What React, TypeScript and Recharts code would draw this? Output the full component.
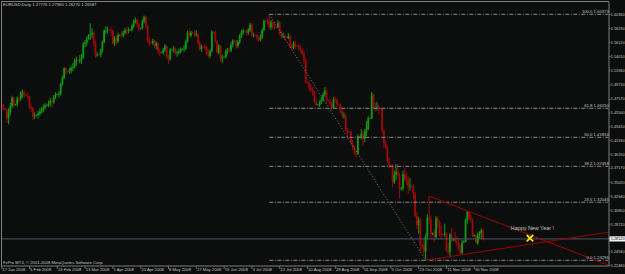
import React from 'react';
import { ComposedChart, Bar, XAxis, YAxis, ReferenceLine, ReferenceDot } from 'recharts';

// EURUSD daily bars, 17 Jan 2008 .. 5 Dec 2008 (broker includes short Sunday bars)
const opens = [
  1.4660,1.4630,1.4625,1.4600,1.4470,1.4560,1.4650,1.4780,1.4670,1.4680,
  1.4770,1.4760,1.4860,1.4860,1.4820,1.4810,1.4800,1.4640,1.4620,1.4500,
  1.4510,1.4520,1.4540,1.4570,1.4600,1.4630,1.4660,1.4670,1.4700,1.4730,
  1.4710,1.4790,1.4830,1.4835,1.4840,1.4990,1.5080,1.5220,1.5180,1.5175,
  1.5190,1.5230,1.5240,1.5330,1.5350,1.5345,1.5350,1.5380,1.5590,1.5610,
  1.5660,1.5720,1.5730,1.5760,1.5600,1.5420,1.5430,1.5425,1.5480,1.5620,
  1.5790,1.5790,1.5800,1.5795,1.5790,1.5600,1.5680,1.5630,1.5720,1.5725,
  1.5720,1.5760,1.5800,1.5790,1.5800,1.5805,1.5860,1.5930,1.5950,1.5880,
  1.5820,1.5830,1.5930,1.6000,1.5860,1.5650,1.5610,1.5605,1.5640,1.5560,
  1.5600,1.5480,1.5460,1.5465,1.5500,1.5560,1.5390,1.5360,1.5500,1.5505,
  1.5520,1.5450,1.5460,1.5470,1.5510,1.5515,1.5520,1.5630,1.5760,1.5720,
  1.5760,1.5755,1.5740,1.5740,1.5610,1.5510,1.5550,1.5545,1.5540,1.5440,
  1.5410,1.5480,1.5770,1.5765,1.5630,1.5460,1.5560,1.5370,1.5390,1.5395,
  1.5480,1.5500,1.5490,1.5580,1.5640,1.5635,1.5560,1.5620,1.5710,1.5760,
  1.5790,1.5785,1.5760,1.5800,1.5880,1.5720,1.5720,1.5715,1.5680,1.5650,
  1.5700,1.5800,1.5940,1.5935,1.5920,1.5840,1.5920,1.5860,1.5850,1.5845,
  1.5910,1.5750,1.5710,1.5710,1.5690,1.5685,1.5710,1.5550,1.5530,1.5600,
  1.5560,1.5555,1.5530,1.5490,1.5440,1.5350,1.5010,1.5005,1.4930,1.4900,
  1.4860,1.4720,1.4670,1.4675,1.4710,1.4750,1.4830,1.4890,1.4740,1.4735,
  1.4690,1.4630,1.4760,1.4750,1.4680,1.4675,1.4580,1.4510,1.4510,1.4300,
  1.4270,1.4265,1.4100,1.4030,1.3950,1.3940,1.4200,1.4195,1.4240,1.4160,
  1.4270,1.4310,1.4470,1.4475,1.4830,1.4650,1.4620,1.4630,1.4620,1.4615,
  1.4280,1.4090,1.4030,1.3820,1.3770,1.3765,1.3510,1.3620,1.3660,1.3620,
  1.3410,1.3415,1.3630,1.3560,1.3540,1.3450,1.3450,1.3445,1.3330,1.3000,
  1.2860,1.2940,1.2560,1.2555,1.2460,1.2690,1.2970,1.2960,1.2730,1.2735,
  1.2680,1.2960,1.2910,1.2730,1.2720,1.2715,1.2730,1.2480,1.2460,1.2720,
  1.2640,1.2645,1.2620,1.2600,1.2490,1.2440,1.2600,1.2610,1.2940,1.3060,
  1.2980,1.2950,1.2700,1.2705,1.2590,1.2720,1.2740,1.2778,
];
const highs = [
  1.4700,1.4690,1.4630,1.4610,1.4620,1.4700,1.4810,1.4790,1.4690,1.4800,
  1.4790,1.4880,1.4900,1.4890,1.4830,1.4860,1.4810,1.4680,1.4640,1.4560,
  1.4530,1.4580,1.4620,1.4640,1.4680,1.4700,1.4680,1.4740,1.4780,1.4770,
  1.4820,1.4860,1.4845,1.4880,1.5010,1.5110,1.5240,1.5240,1.5190,1.5230,
  1.5260,1.5300,1.5370,1.5400,1.5360,1.5420,1.5440,1.5620,1.5650,1.5700,
  1.5740,1.5903,1.5830,1.5780,1.5640,1.5470,1.5440,1.5520,1.5640,1.5810,
  1.5860,1.5850,1.5810,1.5840,1.5810,1.5710,1.5720,1.5760,1.5735,1.5780,
  1.5790,1.5830,1.5850,1.5840,1.5815,1.5890,1.5960,1.5990,1.5970,1.5910,
  1.5835,1.5960,1.6019,1.6010,1.5880,1.5700,1.5620,1.5670,1.5660,1.5630,
  1.5610,1.5520,1.5475,1.5530,1.5590,1.5570,1.5420,1.5530,1.5510,1.5560,
  1.5540,1.5490,1.5520,1.5540,1.5525,1.5570,1.5660,1.5790,1.5810,1.5790,
  1.5770,1.5790,1.5800,1.5750,1.5640,1.5580,1.5560,1.5590,1.5560,1.5500,
  1.5510,1.5800,1.5780,1.5790,1.5650,1.5590,1.5570,1.5430,1.5405,1.5510,
  1.5530,1.5540,1.5620,1.5660,1.5650,1.5650,1.5650,1.5740,1.5800,1.5820,
  1.5800,1.5810,1.5830,1.5910,1.5900,1.5760,1.5730,1.5740,1.5720,1.5740,
  1.5830,1.5960,1.5950,1.5970,1.6037,1.5950,1.5940,1.5900,1.5860,1.5950,
  1.5930,1.5790,1.5760,1.5730,1.5700,1.5750,1.5730,1.5590,1.5630,1.5640,
  1.5570,1.5590,1.5560,1.5520,1.5480,1.5380,1.5020,1.5040,1.4990,1.4950,
  1.4890,1.4760,1.4685,1.4740,1.4790,1.4860,1.4940,1.4900,1.4750,1.4760,
  1.4720,1.4790,1.4800,1.4770,1.4690,1.4690,1.4610,1.4560,1.4530,1.4330,
  1.4280,1.4290,1.4140,1.4060,1.3990,1.4230,1.4210,1.4310,1.4280,1.4310,
  1.4430,1.4500,1.4480,1.4867,1.4840,1.4700,1.4720,1.4680,1.4630,1.4620,
  1.4310,1.4140,1.4060,1.3880,1.3780,1.3780,1.3680,1.3780,1.3780,1.3640,
  1.3440,1.3680,1.3720,1.3660,1.3600,1.3570,1.3460,1.3480,1.3360,1.3060,
  1.2980,1.2960,1.2580,1.2640,1.2720,1.3020,1.3297,1.3000,1.2750,1.2800,
  1.3000,1.2990,1.2930,1.2860,1.2740,1.2880,1.2750,1.2590,1.2740,1.2820,
  1.2660,1.2760,1.2690,1.2670,1.2560,1.2640,1.2630,1.2960,1.3070,1.3070,
  1.3030,1.2960,1.2720,1.2720,1.2750,1.2770,1.2810,1.2798,
];
const lows = [
  1.4585,1.4590,1.4595,1.4400,1.4380,1.4510,1.4620,1.4630,1.4660,1.4650,
  1.4710,1.4730,1.4780,1.4780,1.4800,1.4770,1.4610,1.4560,1.4440,1.4460,
  1.4500,1.4470,1.4510,1.4540,1.4560,1.4600,1.4650,1.4640,1.4650,1.4630,
  1.4690,1.4760,1.4820,1.4780,1.4810,1.4960,1.5060,1.5130,1.5165,1.5140,
  1.5150,1.5180,1.5220,1.5260,1.5335,1.5300,1.5290,1.5370,1.5540,1.5560,
  1.5655,1.5650,1.5680,1.5560,1.5380,1.5400,1.5415,1.5390,1.5460,1.5600,
  1.5740,1.5750,1.5785,1.5710,1.5580,1.5560,1.5580,1.5600,1.5710,1.5680,
  1.5690,1.5730,1.5740,1.5750,1.5790,1.5780,1.5830,1.5900,1.5840,1.5780,
  1.5810,1.5810,1.5900,1.5820,1.5620,1.5560,1.5595,1.5570,1.5530,1.5510,
  1.5440,1.5410,1.5450,1.5430,1.5470,1.5370,1.5285,1.5340,1.5490,1.5460,
  1.5430,1.5400,1.5430,1.5450,1.5500,1.5470,1.5500,1.5610,1.5700,1.5690,
  1.5745,1.5700,1.5700,1.5580,1.5490,1.5470,1.5535,1.5500,1.5420,1.5390,
  1.5370,1.5460,1.5755,1.5610,1.5440,1.5430,1.5320,1.5300,1.5385,1.5370,
  1.5440,1.5460,1.5470,1.5540,1.5625,1.5520,1.5530,1.5590,1.5680,1.5730,
  1.5775,1.5720,1.5730,1.5770,1.5690,1.5690,1.5705,1.5640,1.5620,1.5630,
  1.5670,1.5780,1.5925,1.5880,1.5820,1.5800,1.5820,1.5800,1.5835,1.5830,
  1.5720,1.5680,1.5680,1.5650,1.5675,1.5660,1.5530,1.5500,1.5510,1.5520,
  1.5545,1.5490,1.5450,1.5420,1.5290,1.4990,1.4995,1.4880,1.4860,1.4810,
  1.4700,1.4660,1.4660,1.4640,1.4680,1.4720,1.4800,1.4700,1.4725,1.4650,
  1.4600,1.4610,1.4710,1.4640,1.4665,1.4550,1.4480,1.4460,1.4280,1.4180,
  1.4255,1.4070,1.4000,1.3920,1.3880,1.3920,1.4185,1.4150,1.4060,1.4110,
  1.4200,1.4290,1.4460,1.4460,1.4620,1.4570,1.4590,1.4530,1.4605,1.4240,
  1.4020,1.4000,1.3800,1.3720,1.3740,1.3430,1.3480,1.3540,1.3580,1.3260,
  1.3380,1.3380,1.3520,1.3460,1.3330,1.3380,1.3420,1.3250,1.2970,1.2800,
  1.2730,1.2470,1.2500,1.2400,1.2330,1.2640,1.2870,1.2670,1.2710,1.2600,
  1.2650,1.2810,1.2690,1.2650,1.2700,1.2680,1.2460,1.2410,1.2370,1.2600,
  1.2620,1.2590,1.2540,1.2470,1.2420,1.2420,1.2590,1.2600,1.2880,1.2930,
  1.2900,1.2680,1.2680,1.2580,1.2560,1.2650,1.2650,1.2627,
];
const closes = [
  1.4630,1.4625,1.4600,1.4470,1.4560,1.4650,1.4780,1.4670,1.4680,1.4770,
  1.4760,1.4860,1.4860,1.4820,1.4810,1.4800,1.4640,1.4620,1.4500,1.4510,
  1.4520,1.4540,1.4570,1.4600,1.4630,1.4660,1.4670,1.4700,1.4730,1.4710,
  1.4790,1.4830,1.4835,1.4840,1.4990,1.5080,1.5220,1.5180,1.5175,1.5190,
  1.5230,1.5240,1.5330,1.5350,1.5345,1.5350,1.5380,1.5590,1.5610,1.5660,
  1.5720,1.5730,1.5760,1.5600,1.5420,1.5430,1.5425,1.5480,1.5620,1.5790,
  1.5790,1.5800,1.5795,1.5790,1.5600,1.5680,1.5630,1.5720,1.5725,1.5720,
  1.5760,1.5800,1.5790,1.5800,1.5805,1.5860,1.5930,1.5950,1.5880,1.5820,
  1.5830,1.5930,1.6000,1.5860,1.5650,1.5610,1.5605,1.5640,1.5560,1.5600,
  1.5480,1.5460,1.5465,1.5500,1.5560,1.5390,1.5360,1.5500,1.5505,1.5520,
  1.5450,1.5460,1.5470,1.5510,1.5515,1.5520,1.5630,1.5760,1.5720,1.5760,
  1.5755,1.5740,1.5740,1.5610,1.5510,1.5550,1.5545,1.5540,1.5440,1.5410,
  1.5480,1.5770,1.5765,1.5630,1.5460,1.5560,1.5370,1.5390,1.5395,1.5480,
  1.5500,1.5490,1.5580,1.5640,1.5635,1.5560,1.5620,1.5710,1.5760,1.5790,
  1.5785,1.5760,1.5800,1.5880,1.5720,1.5720,1.5715,1.5680,1.5650,1.5700,
  1.5800,1.5940,1.5935,1.5920,1.5840,1.5920,1.5860,1.5850,1.5845,1.5910,
  1.5750,1.5710,1.5710,1.5690,1.5685,1.5710,1.5550,1.5530,1.5600,1.5560,
  1.5555,1.5530,1.5490,1.5440,1.5350,1.5010,1.5005,1.4930,1.4900,1.4860,
  1.4720,1.4670,1.4675,1.4710,1.4750,1.4830,1.4890,1.4740,1.4735,1.4690,
  1.4630,1.4760,1.4750,1.4680,1.4675,1.4580,1.4510,1.4510,1.4300,1.4270,
  1.4265,1.4100,1.4030,1.3950,1.3940,1.4200,1.4195,1.4240,1.4160,1.4270,
  1.4310,1.4470,1.4475,1.4830,1.4650,1.4620,1.4630,1.4620,1.4615,1.4280,
  1.4090,1.4030,1.3820,1.3770,1.3765,1.3510,1.3620,1.3660,1.3620,1.3410,
  1.3415,1.3630,1.3560,1.3540,1.3450,1.3450,1.3445,1.3330,1.3000,1.2860,
  1.2940,1.2560,1.2555,1.2460,1.2690,1.2970,1.2960,1.2730,1.2735,1.2680,
  1.2960,1.2910,1.2730,1.2720,1.2715,1.2730,1.2480,1.2460,1.2720,1.2640,
  1.2645,1.2620,1.2600,1.2490,1.2440,1.2600,1.2610,1.2940,1.3060,1.2980,
  1.2950,1.2700,1.2705,1.2590,1.2720,1.2740,1.2778,1.2659,
];

// time axis
const dateTickBars = [0, 16, 32, 48, 64, 80, 96, 112, 128, 144, 160, 176, 192, 208, 224, 240, 256, 272];
const dateTickLabels = [
  '17 Jan 2008', '5 Feb 2008', '24 Feb 2008', '13 Mar 2008', '1 Apr 2008', '20 Apr 2008',
  '8 May 2008', '27 May 2008', '15 Jun 2008', '3 Jul 2008', '22 Jul 2008', '10 Aug 2008',
  '28 Aug 2008', '16 Sep 2008', '5 Oct 2008', '23 Oct 2008', '11 Nov 2008', '30 Nov 2008',
];
const totalSlots = 350; // bars plus empty space to the right (chart shift)

// price axis
const priceTicks = [
  1.6034, 1.5823, 1.5612, 1.5401, 1.5186, 1.4971, 1.4757, 1.4550, 1.4341, 1.4133,
  1.3925, 1.3717, 1.3502, 1.3294, 1.3080, 1.2872, 1.2652, 1.2456, 1.2248,
];
const priceTickLabels = [
  '1.60340', '1.58230', '1.56120', '1.54010', '1.51860', '1.49710', '1.47570', '1.45500', '1.43410', '1.41330',
  '1.39250', '1.37170', '1.35020', '1.32940', '1.30800', '1.28720', '1.26520', '1.24560', '1.22480',
];
const priceMin = 1.22437;
const priceMax = 1.62227;
const bidPrice = 1.2652;

// Fibonacci retracement (from 15 Jul high to 28 Oct low)
const fiboStartBar = 154;
const fiboEndBar = 244;
const fiboRatios = ['100.0', '61.8', '50.0', '38.2', '23.6', '0.0'];
const fiboPrices = [1.60373, 1.46210, 1.41834, 1.37459, 1.32046, 1.23296];
const fiboLabels = ['1.60373', '1.46210', '1.41834', '1.37459', '1.32046', '1.23296'];

// triangle trend lines
const upperLine = [{ x: 246, y: 1.3297 }, { x: 349, y: 1.2257 }];
const lowerLine = [{ x: 244, y: 1.2330 }, { x: 349, y: 1.2753 }];

const markBar = 304;
const markPrice = 1.2662;
const noteBar = 293;
const notePrice = 1.2809;
const noteText = 'Happy New Year !';
const headerText = 'EURUSD,Daily  1.27776 1.27980 1.26270 1.26587';
const footerText = 'FxPro MT4, \u00A9 2001-2008 MetaQuotes Software Corp.';

const rows = Array.from({ length: totalSlots }, (_, i) =>
  i < closes.length
    ? { i, range: [lows[i], highs[i]], o: opens[i], h: highs[i], l: lows[i], c: closes[i] }
    : { i, range: null }
);

const BG = '#0c0e0e';
const UP = '#109a10';
const DOWN = '#9c0a0a';
const GRID = '#7c7c7c';
const TXT = '#c4c4c4';
const FONT = 'Liberation Sans, Arial, sans-serif';

const Candle = (props: any) => {
  const { x, y, width, height, payload } = props;
  if (!payload || payload.range == null || x == null) return null;
  const top = Math.min(y, y + height);
  const h = Math.abs(height);
  const span = payload.h - payload.l || 1;
  const py = (v: number) => top + ((payload.h - v) / span) * h;
  const cx = x + width / 2;
  const up = payload.c >= payload.o;
  const color = up ? UP : DOWN;
  const yo = py(payload.o);
  const yc = py(payload.c);
  const bTop = Math.min(yo, yc);
  const bH = Math.max(0.7, Math.abs(yo - yc));
  return (
    <g>
      <rect x={cx - 0.5} y={top} width={1} height={Math.max(h, 0.7)} fill={color} />
      <rect x={cx - 0.9} y={bTop} width={1.8} height={bH} fill={color} />
    </g>
  );
};

const DateTick = (props: any) => {
  const { x, y, payload } = props;
  const idx = dateTickBars.indexOf(payload.value);
  if (idx < 0) return null;
  return (
    <g>
      <line x1={x} x2={x} y1={y} y2={y + 3} stroke={GRID} strokeWidth={0.8} />
      <text x={x + 0.6} y={y + 4.3} fontSize={4.2} fontFamily={FONT} fill={TXT} dominantBaseline="middle">
        {dateTickLabels[idx]}
      </text>
    </g>
  );
};

const PriceTick = (props: any) => {
  const { x, y, payload } = props;
  const idx = priceTicks.indexOf(payload.value);
  if (idx < 0) return null;
  const isBid = payload.value === bidPrice;
  return (
    <g>
      <line x1={x} x2={x + 1.6} y1={y} y2={y} stroke={GRID} strokeWidth={0.8} />
      {isBid && <rect x={x + 0.5} y={y - 2.6} width={16} height={5.2} fill="#f2f2f2" />}
      <text x={x + 1.7} y={y + 0.2} fontSize={3.85} fontFamily={FONT} fill={isBid ? '#000' : TXT} dominantBaseline="middle">
        {priceTickLabels[idx]}
      </text>
    </g>
  );
};

const fiboLabelShape = (k: number) => (p: any) => (
  <text x={p.cx + 0.6} y={p.cy - 2.7} fontSize={4.2} fontFamily={FONT} fill={TXT} textAnchor="end" dominantBaseline="middle">
    {fiboRatios[k] + '  ' + fiboLabels[k]}
  </text>
);

const XMark = (p: any) => (
  <g stroke="#f2e200" strokeWidth={1.8} strokeLinecap="square">
    <line x1={p.cx - 2.6} y1={p.cy - 2.6} x2={p.cx + 2.6} y2={p.cy + 2.6} />
    <line x1={p.cx - 2.6} y1={p.cy + 2.6} x2={p.cx + 2.6} y2={p.cy - 2.6} />
  </g>
);

const NoteShape = (p: any) => (
  <text x={p.cx} y={p.cy} fontSize={5.4} fontFamily={FONT} fill={TXT} dominantBaseline="middle">
    {noteText}
  </text>
);

export default function App() {
  return (
    <div style={{ position: 'absolute', left: 0, top: 0, width: 625, height: 274, background: BG, overflow: 'hidden' }}>
      <ComposedChart
        width={625}
        height={274}
        data={rows}
        margin={{ top: 2, right: 0, bottom: 0, left: 0.83 }}
        barCategoryGap={0}
      >
        <XAxis
          dataKey="i"
          type="category"
          ticks={dateTickBars}
          interval={0}
          tick={<DateTick />}
          tickSize={0}
          tickMargin={0}
          height={8}
          axisLine={{ stroke: GRID, strokeWidth: 1 }}
          tickLine={false}
        />
        <YAxis
          orientation="right"
          type="number"
          domain={[priceMin, priceMax]}
          allowDataOverflow
          ticks={priceTicks}
          interval={0}
          tick={<PriceTick />}
          tickSize={0}
          tickMargin={0}
          width={16}
          axisLine={{ stroke: GRID, strokeWidth: 1 }}
          tickLine={false}
        />
        <ReferenceLine y={bidPrice} stroke="#4e5669" strokeWidth={1} />
        {fiboPrices.map((p, k) => (
          <ReferenceLine
            key={'f' + k}
            segment={[{ x: fiboStartBar, y: p }, { x: totalSlots - 1, y: p }]}
            stroke="#8a8a8a"
            strokeWidth={1}
            strokeDasharray="4 1.5 1 1.5"
          />
        ))}
        <ReferenceLine
          segment={[{ x: fiboStartBar, y: fiboPrices[0] }, { x: fiboEndBar, y: fiboPrices[5] }]}
          stroke="#7a7a7a"
          strokeWidth={1}
          strokeDasharray="1 2"
        />
        <ReferenceLine segment={upperLine} stroke="#a00000" strokeWidth={1} />
        <ReferenceLine segment={lowerLine} stroke="#a00000" strokeWidth={1} />
        <Bar dataKey="range" shape={Candle} barSize={2} isAnimationActive={false} />
        {fiboPrices.map((p, k) => (
          <ReferenceDot key={'fl' + k} x={totalSlots - 1} y={p} r={0} shape={fiboLabelShape(k)} />
        ))}
        <ReferenceDot x={noteBar} y={notePrice} r={0} shape={NoteShape} />
        <ReferenceDot x={markBar} y={markPrice} r={0} shape={XMark} />
      </ComposedChart>
      <div style={{ position: 'absolute', left: 1, top: 1, width: 608, height: 265, borderTop: '1px solid ' + GRID, borderLeft: '1px solid ' + GRID, boxSizing: 'border-box', pointerEvents: 'none' }} />
      <svg width={625} height={274} style={{ position: 'absolute', left: 0, top: 0, pointerEvents: 'none' }}>
        <text x={3} y={4.6} fontSize={4.2} fontFamily={FONT} fill={TXT} dominantBaseline="middle">{headerText}</text>
        <text x={3} y={262.6} fontSize={4.2} fontFamily={FONT} fill={TXT} dominantBaseline="middle">{footerText}</text>
      </svg>
    </div>
  );
}
